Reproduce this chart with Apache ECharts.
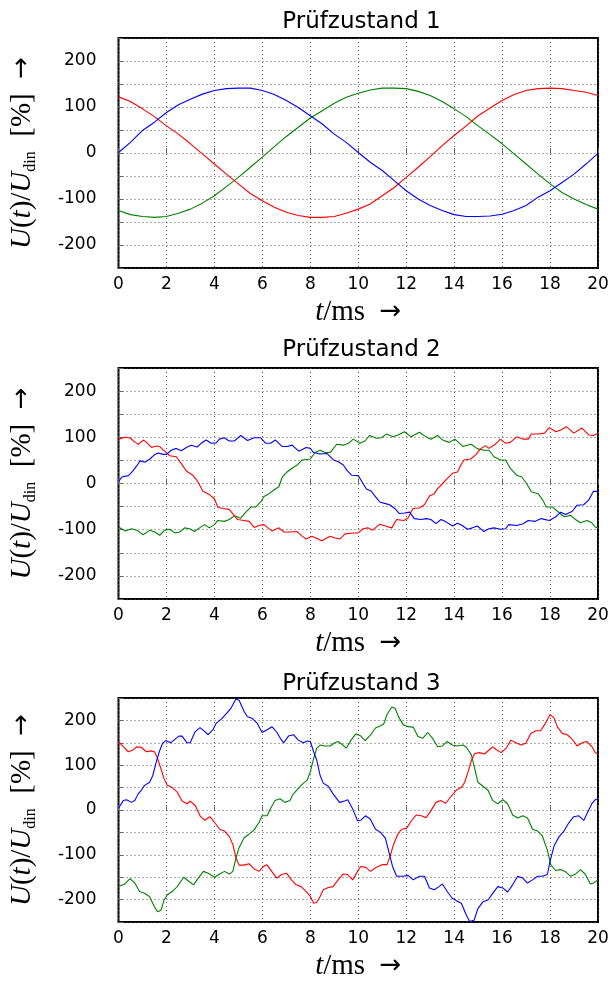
<!DOCTYPE html>
<html>
<head>
<meta charset="utf-8">
<script src="https://cdn.jsdelivr.net/npm/echarts@6/dist/echarts.min.js"></script>
<style>
html,body{margin:0;padding:0;background:#fff;}
#chart{width:614px;height:982px;}
</style>
</head>
<body>
<div id="chart"></div>
<script>
// ---------- data ----------
const titles = ['Prüfzustand 1', 'Prüfzustand 2', 'Prüfzustand 3'];
const xTicks = [0, 2, 4, 6, 8, 10, 12, 14, 16, 18, 20];
const yTicks = [-200, -100, 0, 100, 200];

// Prüfzustand 1 (sampled every 0.5 ms)
const t1 = [0,0.5,1,1.5,2,2.5,3,3.5,4,4.5,5,5.5,6,6.5,7,7.5,8,8.5,9,9.5,10,10.5,11,11.5,12,12.5,13,13.5,14,14.5,15,15.5,16,16.5,17,17.5,18,18.5,19,19.5,20];
const p1Blue = [1,23,49,67,88,105,117,128,136,140,141,141,136,127,114,99,81,63,41,23,1,-20,-38,-60,-82,-100,-114,-125,-134,-138,-138,-137,-133,-125,-114,-96,-82,-64,-46,-24,-1];
const p1Red = [122,112,96,79,59,41,20,-2,-24,-46,-67,-88,-104,-118,-129,-136,-140,-140,-138,-131,-122,-111,-93,-75,-53,-31,-8,16,38,59,81,98,114,127,136,140,141,140,136,132,125];
const p1Green = [-125,-134,-138,-140,-138,-131,-122,-109,-93,-73,-53,-31,-9,14,36,56,76,92,108,121,130,137,141,141,140,134,125,112,96,79,59,40,20,-2,-24,-46,-67,-86,-100,-112,-122];

// Prüfzustand 2 ([t in ms, value in %])
const p2Red = [[0,96],[0.28,100],[0.48,99],[0.69,89],[0.83,85],[1.03,94],[1.17,89],[1.38,78],[1.59,81],[1.72,80],[1.93,70],[2.14,60],[2.41,58],[2.62,43],[2.83,27],[3.1,18],[3.31,4],[3.52,-17],[3.79,-24],[4.0,-33],[4.14,-51],[4.34,-54],[4.62,-56],[4.76,-65],[4.97,-78],[5.24,-80],[5.45,-82],[5.66,-95],[5.86,-91],[6.07,-89],[6.21,-95],[6.41,-103],[6.69,-96],[6.9,-105],[7.17,-105],[7.45,-104],[7.66,-114],[7.83,-120],[8.07,-114],[8.48,-124],[8.83,-114],[9.03,-118],[9.24,-120],[9.45,-109],[9.79,-107],[10.0,-107],[10.2,-98],[10.4,-96],[10.6,-101],[10.9,-88],[11.2,-93],[11.4,-96],[11.6,-78],[11.9,-80],[12.07,-75],[12.28,-54],[12.55,-53],[12.76,-46],[12.97,-27],[13.17,-22],[13.31,-11],[13.52,0],[13.72,11],[13.93,22],[14.14,25],[14.28,40],[14.41,51],[14.69,53],[14.9,62],[15.1,75],[15.31,82],[15.45,76],[15.72,85],[15.93,96],[16.14,87],[16.34,89],[16.61,101],[16.88,96],[17.09,96],[17.22,107],[17.5,107],[17.77,109],[17.97,121],[18.24,112],[18.45,116],[18.68,123],[18.99,109],[19.33,120],[19.61,105],[19.81,104],[20,109]];
const p2Blue = [[0,4],[0.14,14],[0.41,17],[0.55,24],[0.76,38],[0.9,49],[1.1,46],[1.31,53],[1.52,63],[1.66,66],[1.86,63],[2.0,63],[2.2,72],[2.41,76],[2.62,71],[2.83,78],[3.03,83],[3.28,79],[3.45,87],[3.66,94],[3.86,87],[4.07,88],[4.21,96],[4.41,99],[4.62,92],[4.83,92],[5.1,104],[5.38,93],[5.66,99],[5.93,99],[6.14,87],[6.34,87],[6.55,94],[6.83,80],[7.03,80],[7.24,83],[7.52,70],[7.83,78],[8.0,76],[8.14,67],[8.41,64],[8.69,65],[8.97,51],[9.17,47],[9.38,40],[9.52,29],[9.72,18],[10.0,17],[10.2,0],[10.34,-12],[10.55,-17],[10.69,-27],[10.9,-40],[11.1,-43],[11.31,-46],[11.52,-54],[11.72,-65],[11.93,-64],[12.14,-62],[12.34,-76],[12.62,-78],[12.83,-76],[13.03,-78],[13.24,-87],[13.45,-78],[13.66,-83],[13.93,-92],[14.14,-86],[14.34,-91],[14.55,-99],[14.76,-96],[14.97,-92],[15.24,-104],[15.45,-98],[15.66,-96],[15.93,-99],[16.14,-98],[16.28,-89],[16.61,-91],[16.88,-87],[17.09,-80],[17.36,-82],[17.63,-76],[17.97,-80],[18.24,-72],[18.45,-62],[18.65,-67],[18.93,-60],[19.13,-47],[19.4,-46],[19.61,-36],[19.81,-17],[20,-17]];
const p2Green = [[0,-94],[0.28,-103],[0.55,-98],[0.76,-101],[1.03,-111],[1.31,-101],[1.52,-105],[1.72,-112],[1.93,-101],[2.14,-99],[2.34,-107],[2.55,-105],[2.76,-96],[2.97,-98],[3.17,-104],[3.38,-96],[3.59,-89],[3.79,-96],[4.0,-89],[4.14,-80],[4.41,-82],[4.62,-78],[4.83,-70],[5.1,-75],[5.31,-62],[5.52,-51],[5.72,-51],[5.93,-40],[6.07,-28],[6.28,-22],[6.48,-14],[6.69,-7],[6.83,14],[7.03,25],[7.24,33],[7.45,40],[7.66,51],[8.0,53],[8.2,67],[8.41,72],[8.62,67],[8.83,67],[9.1,85],[9.38,83],[9.59,87],[9.79,96],[10.07,87],[10.28,92],[10.48,104],[10.76,98],[10.97,99],[11.17,107],[11.45,101],[11.66,105],[11.93,112],[12.2,101],[12.55,111],[12.83,101],[13.03,96],[13.31,104],[13.52,94],[13.79,89],[14.03,96],[14.37,80],[14.71,85],[14.98,75],[15.25,72],[15.46,72],[15.66,58],[15.93,51],[16.14,51],[16.34,33],[16.61,18],[16.82,14],[17.02,0],[17.22,-18],[17.5,-22],[17.7,-36],[17.84,-51],[18.11,-51],[18.31,-60],[18.59,-72],[18.86,-69],[19.06,-78],[19.27,-85],[19.54,-80],[19.74,-85],[19.88,-94],[20,-96]];

// Prüfzustand 3 ([t in ms, value in %])
const p3Blue = [[0,4],[0.2,21],[0.34,23],[0.54,17],[0.68,21],[0.82,36],[0.95,44],[1.09,55],[1.3,62],[1.43,77],[1.56,104],[1.7,130],[1.84,149],[1.97,155],[2.18,150],[2.31,156],[2.52,165],[2.65,165],[2.86,150],[2.99,150],[3.2,175],[3.4,184],[3.6,175],[3.74,168],[3.95,180],[4.08,194],[4.29,203],[4.5,215],[4.7,228],[4.9,248],[5.03,245],[5.24,220],[5.38,208],[5.57,205],[5.78,194],[5.99,173],[6.2,179],[6.4,186],[6.61,173],[6.75,160],[6.89,150],[7.09,165],[7.3,168],[7.5,156],[7.71,150],[7.88,154],[8.0,153],[8.14,130],[8.27,111],[8.41,77],[8.54,60],[8.75,53],[8.95,36],[9.22,17],[9.43,20],[9.56,23],[9.77,2],[9.97,-24],[10.1,-23],[10.3,-13],[10.5,-20],[10.72,-43],[10.93,-50],[11.13,-63],[11.27,-92],[11.43,-126],[11.6,-148],[11.88,-148],[12.08,-146],[12.29,-156],[12.56,-148],[12.76,-148],[12.97,-174],[13.17,-178],[13.37,-171],[13.51,-165],[13.71,-182],[13.92,-197],[14.12,-203],[14.3,-208],[14.51,-235],[14.65,-249],[14.83,-246],[14.99,-220],[15.2,-205],[15.41,-201],[15.61,-186],[15.82,-171],[16.03,-174],[16.23,-183],[16.44,-167],[16.65,-148],[16.86,-152],[17.06,-163],[17.27,-156],[17.48,-148],[17.68,-148],[17.89,-144],[18.0,-114],[18.17,-80],[18.37,-60],[18.58,-47],[18.79,-28],[18.99,-15],[19.2,-13],[19.41,-23],[19.57,-5],[19.75,15],[19.89,23],[20,25]];
const p3Red = [[0,153],[0.2,141],[0.41,130],[0.61,134],[0.75,141],[0.95,140],[1.16,130],[1.36,132],[1.5,130],[1.63,115],[1.77,92],[1.9,70],[2.04,55],[2.24,50],[2.45,40],[2.65,20],[2.86,14],[2.99,20],[3.2,10],[3.4,-13],[3.6,-23],[3.81,-15],[4.01,-28],[4.22,-43],[4.42,-47],[4.63,-60],[4.77,-77],[4.9,-107],[5.03,-123],[5.24,-123],[5.44,-120],[5.65,-131],[5.86,-137],[6.05,-126],[6.19,-122],[6.39,-137],[6.6,-152],[6.8,-144],[7.01,-141],[7.21,-156],[7.41,-167],[7.62,-171],[7.86,-184],[8.0,-193],[8.14,-208],[8.27,-206],[8.41,-193],[8.54,-178],[8.75,-173],[8.95,-171],[9.16,-156],[9.36,-143],[9.56,-144],[9.77,-156],[9.97,-137],[10.1,-126],[10.31,-128],[10.52,-137],[10.72,-129],[10.99,-122],[11.2,-122],[11.33,-103],[11.47,-77],[11.65,-54],[11.81,-43],[12.01,-41],[12.22,-24],[12.42,-11],[12.63,-13],[12.83,-17],[13.03,-2],[13.24,17],[13.44,21],[13.65,15],[13.85,29],[14.1,45],[14.3,50],[14.44,62],[14.58,85],[14.72,111],[14.86,126],[15.06,128],[15.27,125],[15.48,135],[15.61,141],[15.75,135],[15.96,128],[16.17,138],[16.37,156],[16.58,150],[16.79,145],[16.99,149],[17.2,171],[17.41,177],[17.61,177],[17.82,195],[18.0,213],[18.17,205],[18.3,186],[18.51,171],[18.72,168],[18.92,158],[19.13,143],[19.34,150],[19.54,153],[19.75,141],[19.89,128],[20,125]];
const p3Green = [[0,-171],[0.27,-165],[0.48,-153],[0.68,-163],[0.88,-182],[1.09,-186],[1.29,-193],[1.5,-216],[1.63,-227],[1.77,-224],[1.9,-201],[2.04,-189],[2.24,-182],[2.45,-171],[2.72,-150],[2.93,-159],[3.13,-167],[3.33,-152],[3.54,-137],[3.74,-141],[4.01,-150],[4.22,-143],[4.42,-137],[4.63,-143],[4.77,-137],[4.9,-107],[5.03,-84],[5.24,-62],[5.44,-54],[5.65,-45],[5.86,-28],[5.99,-13],[6.2,-13],[6.33,2],[6.53,21],[6.74,25],[6.94,17],[7.15,21],[7.28,35],[7.48,47],[7.69,59],[7.86,66],[8.0,85],[8.14,115],[8.27,138],[8.41,145],[8.61,143],[8.82,143],[9.02,150],[9.16,153],[9.36,145],[9.5,138],[9.7,156],[9.9,170],[10.11,165],[10.29,155],[10.52,168],[10.72,183],[10.93,188],[11.06,192],[11.2,213],[11.4,230],[11.54,227],[11.67,209],[11.88,190],[12.08,186],[12.29,185],[12.49,164],[12.69,160],[12.9,173],[13.1,160],[13.31,141],[13.51,143],[13.71,153],[13.92,145],[14.1,143],[14.37,145],[14.51,140],[14.72,123],[14.86,92],[14.99,62],[15.2,53],[15.41,44],[15.61,21],[15.82,14],[16.03,23],[16.23,14],[16.44,-11],[16.65,-18],[16.86,-13],[17.06,-18],[17.27,-43],[17.48,-47],[17.68,-58],[17.89,-90],[18.03,-122],[18.23,-135],[18.44,-133],[18.65,-138],[18.86,-148],[19.06,-143],[19.27,-133],[19.48,-144],[19.68,-165],[19.82,-163],[20,-156]];

// ---------- layout / styles ----------
const grids = [
  {left: 115, top: 38, width: 483, height: 230},
  {left: 115, top: 368, width: 483, height: 231},
  {left: 115, top: 698, width: 483, height: 224}
];
const titleTops = [6, 334, 668];
const COLORS = {red: '#ff0000', blue: '#0000ff', green: '#008000'};
const SANS = 'DejaVu Sans';
const SERIF = 'Liberation Serif';

const chart = echarts.init(document.getElementById('chart'), null, {renderer: 'canvas'});

const yNameRich = {
  i: {fontFamily: SERIF, fontStyle: 'italic', fontSize: 29, color: '#000', lineHeight: 32, verticalAlign: 'middle'},
  n: {fontFamily: SERIF, fontSize: 29, color: '#000', lineHeight: 32, verticalAlign: 'middle'},
  s: {fontFamily: SERIF, fontSize: 16, color: '#000', lineHeight: 32, verticalAlign: 'bottom'},
  a: {fontFamily: 'DejaVu Sans', fontSize: 26, color: '#000', lineHeight: 32, verticalAlign: 'middle'}
};
const xNameRich = {
  i: {fontFamily: SERIF, fontStyle: 'italic', fontSize: 29, color: '#000', lineHeight: 32, verticalAlign: 'middle'},
  n: {fontFamily: SERIF, fontSize: 29, color: '#000', lineHeight: 32, verticalAlign: 'middle'},
  a: {fontFamily: 'DejaVu Sans', fontSize: 26, color: '#000', lineHeight: 32, verticalAlign: 'middle'}
};

const gridLine = {show: true, lineStyle: {color: '#555', type: [1, 3], width: 1}};

const option = {
  animation: false,
  backgroundColor: '#fff',
  title: titles.map((txt, k) => ({
    text: txt,
    left: grids[k].left + grids[k].width / 2,
    textAlign: 'center',
    top: titleTops[k],
    textStyle: {fontFamily: SANS, fontSize: 23, fontWeight: 'normal', color: '#000'}
  })),
  grid: grids.map(g => Object.assign({show: true, borderColor: '#000', borderWidth: 2, backgroundColor: 'transparent'}, g)),
  xAxis: grids.map((g, k) => ({
    type: 'value', gridIndex: k, min: xTicks[0], max: xTicks[xTicks.length - 1], interval: 2,
    axisLine: {show: false},
    axisTick: {show: true, inside: true, length: 5, lineStyle: {color: '#666'}},
    axisLabel: {fontFamily: SANS, fontSize: 17, color: '#000', margin: 8, showMinLabel: true, showMaxLabel: true},
    splitLine: gridLine,
    name: '{i|t}{n|/ms  }{a|→}',
    nameLocation: 'middle',
    nameGap: 28,
    nameTextStyle: {rich: xNameRich}
  })),
  yAxis: grids.map((g, k) => ({
    type: 'value', gridIndex: k, min: -250, max: 250, interval: 50,
    axisLine: {show: false},
    axisTick: {show: true, inside: true, length: 5, lineStyle: {color: '#666'}},
    axisLabel: {fontFamily: SANS, fontSize: 17, color: '#000', margin: 22,
      formatter: v => (yTicks.indexOf(v) >= 0 ? String(v) : '')},
    splitLine: gridLine,
    name: '{i|U}{n|(}{i|t}{n|)/}{i|U}{s|din}{n|  [%]  }{a|→}',
    nameLocation: 'middle',
    nameRotate: 90,
    nameGap: 80,
    nameTextStyle: {rich: yNameRich}
  })),
  series: []
};

function addLine(k, data, color) {
  option.series.push({
    type: 'line', xAxisIndex: k, yAxisIndex: k, data: data, showSymbol: false, symbol: 'none',
    lineStyle: {color: color, width: 1.1}, silent: true, clip: true
  });
}
addLine(0, t1.map((t, i) => [t, p1Green[i]]), COLORS.green);
addLine(0, t1.map((t, i) => [t, p1Red[i]]), COLORS.red);
addLine(0, t1.map((t, i) => [t, p1Blue[i]]), COLORS.blue);
addLine(1, p2Green, COLORS.green);
addLine(1, p2Red, COLORS.red);
addLine(1, p2Blue, COLORS.blue);
addLine(2, p3Green, COLORS.green);
addLine(2, p3Red, COLORS.red);
addLine(2, p3Blue, COLORS.blue);

chart.setOption(option);
</script>
</body>
</html>
